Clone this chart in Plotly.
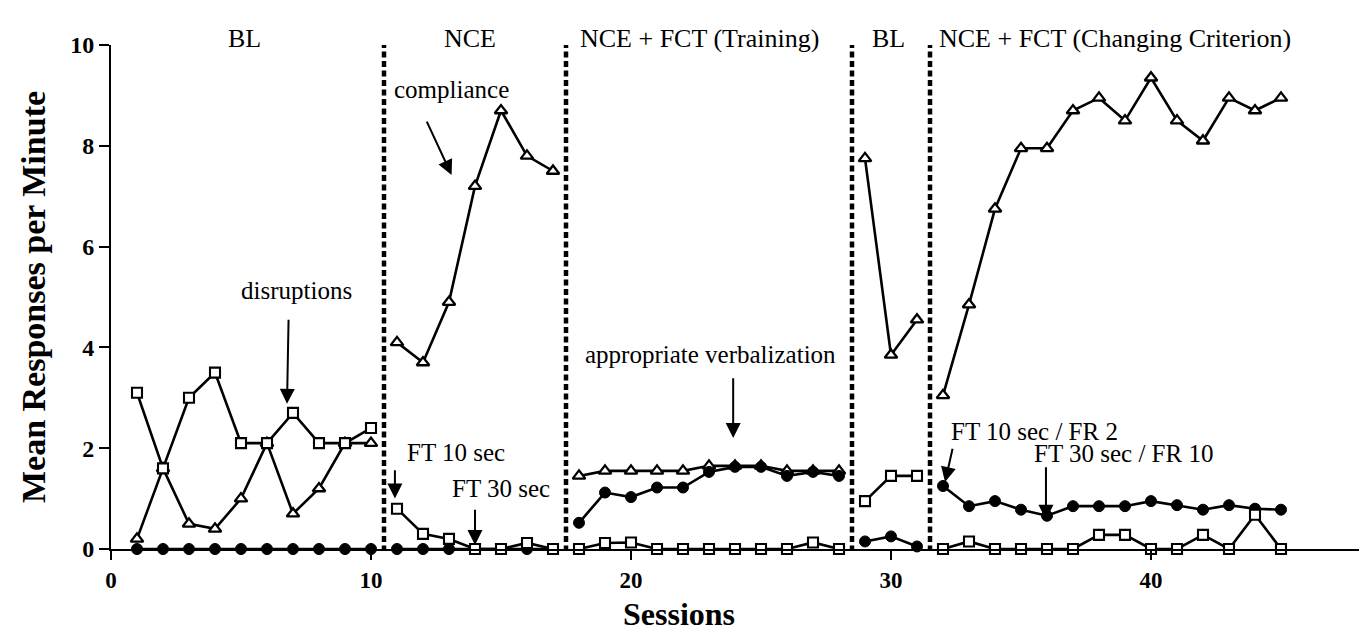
import plotly.graph_objects as go

# ---------------- data ----------------
sessions = list(range(1, 46))

# disruptions (open squares)
disruptions = [3.1, 1.6, 3.0, 3.5, 2.1, 2.1, 2.7, 2.1, 2.1, 2.4,      # BL 1-10
               0.8, 0.3, 0.2, 0.0, 0.0, 0.12, 0.0,                     # NCE 11-17
               0.0, 0.12, 0.13, 0.0, 0.0, 0.0, 0.0, 0.0, 0.0, 0.13, 0.0,  # NCE+FCT training 18-28
               0.95, 1.45, 1.45,                                       # BL 29-31
               0.0, 0.15, 0.0, 0.0, 0.0, 0.0, 0.28, 0.28, 0.0, 0.0, 0.28, 0.0, 0.68, 0.0]  # CC 32-45

# compliance (open triangles)
compliance = [0.2, 1.6, 0.5, 0.4, 1.0, 2.1, 0.7, 1.2, 2.1, 2.1,
              4.1, 3.7, 4.9, 7.2, 8.7, 7.8, 7.5,
              1.45, 1.55, 1.55, 1.55, 1.55, 1.65, 1.65, 1.65, 1.55, 1.55, 1.55,
              7.75, 3.85, 4.55,
              3.05, 4.85, 6.75, 7.95, 7.95, 8.7, 8.95, 8.5, 9.35, 8.5, 8.1, 8.95, 8.7, 8.95]

# appropriate verbalization (filled circles)
verbalization = [0.0, 0.0, 0.0, 0.0, 0.0, 0.0, 0.0, 0.0, 0.0, 0.0,
                 0.0, 0.0, 0.0, 0.0, 0.0, 0.0, 0.0,
                 0.52, 1.12, 1.03, 1.22, 1.22, 1.53, 1.63, 1.63, 1.45, 1.53, 1.45,
                 0.15, 0.25, 0.05,
                 1.25, 0.85, 0.95, 0.78, 0.66, 0.85, 0.85, 0.85, 0.95, 0.87, 0.78, 0.87, 0.8, 0.78]

phase_lines = [10.5, 17.5, 28.5, 31.5]
phase_labels = ["BL", "NCE", "NCE + FCT (Training)", "BL", "NCE + FCT (Changing Criterion)"]
phase_label_x = [5.15, 13.8, 22.65, 29.9, 38.6]

x_ticks = [0, 10, 20, 30, 40]
y_ticks = [0, 2, 4, 6, 8, 10]

SERIF = "Liberation Serif, Times New Roman, serif"


def split_phases(xs, ys, breaks):
    """Insert None between phases so lines are not connected across phase changes."""
    ox, oy = [], []
    for i, (a, b) in enumerate(zip(xs, ys)):
        if i > 0 and any(xs[i - 1] < br < a for br in breaks):
            ox.append(None)
            oy.append(None)
        ox.append(a)
        oy.append(b)
    return ox, oy


fig = go.Figure()

cx, cy = split_phases(sessions, compliance, phase_lines)
fig.add_trace(go.Scatter(
    x=cx, y=cy, mode="lines+markers", name="compliance", cliponaxis=False,
    line=dict(color="black", width=2.6),
    marker=dict(symbol="triangle-up", size=11, color="white",
                line=dict(color="black", width=2.3))))

vx, vy = split_phases(sessions, verbalization, phase_lines)
fig.add_trace(go.Scatter(
    x=vx, y=vy, mode="lines+markers", name="appropriate verbalization", cliponaxis=False,
    line=dict(color="black", width=2.6),
    marker=dict(symbol="circle", size=11, color="black",
                line=dict(color="black", width=1))))

dx, dy = split_phases(sessions, disruptions, phase_lines)
fig.add_trace(go.Scatter(
    x=dx, y=dy, mode="lines+markers", name="disruptions", cliponaxis=False,
    line=dict(color="black", width=2.6),
    marker=dict(symbol="square", size=10, color="white",
                line=dict(color="black", width=2.1))))

# phase change lines
for xl in phase_lines:
    fig.add_shape(type="line", x0=xl, x1=xl, xref="x", y0=-0.05, y1=10.12, yref="y",
                  line=dict(color="black", width=4.5, dash="6px,3.5px"), layer="below")

# phase labels
for lab, lx in zip(phase_labels, phase_label_x):
    fig.add_annotation(x=lx, y=1.046, xref="x", yref="paper", text=lab, showarrow=False,
                       font=dict(family=SERIF, size=26, color="black"))

# annotations with arrows: (text, text_x, text_y, tail_x, tail_y, head_x, head_y)
notes = [
    ("disruptions", 7.12, 5.12, 6.83, 4.58, 6.77, 2.88),
    ("compliance", 13.1, 9.11, 12.12, 8.51, 13.1, 7.42),
    ("FT 10 sec", 13.27, 1.92, 10.92, 1.59, 10.92, 1.0),
    ("FT 30 sec", 15.0, 1.21, 14.0, 0.81, 14.0, 0.08),
    ("appropriate verbalization", 23.04, 3.85, 23.93, 3.42, 23.93, 2.2),
    ("FT 10 sec / FR 2", 35.5, 2.34, 32.38, 2.02, 32.08, 1.33),
    ("FT 30 sec / FR 10", 38.96, 1.9, 35.96, 1.65, 35.96, 0.58),
]
for txt, tx, ty, ax_, ay_, hx, hy in notes:
    fig.add_annotation(x=tx, y=ty, xref="x", yref="y", text=txt, showarrow=False,
                       font=dict(family=SERIF, size=25, color="black"))
    fig.add_annotation(x=hx, y=hy, ax=ax_, ay=ay_, xref="x", yref="y", axref="x", ayref="y",
                       text="", showarrow=True, arrowhead=2, arrowsize=1.5, arrowwidth=2,
                       arrowcolor="black")

# x-axis title placed as in the reference (slightly left of centre)
fig.add_annotation(x=21.85, y=-0.09, xref="x", yref="paper", yanchor="top",
                   text="<b>Sessions</b>", showarrow=False,
                   font=dict(family=SERIF, size=32, color="black"))

fig.update_xaxes(range=[0, 48], tickvals=x_ticks, ticktext=[str(v) for v in x_ticks],
                 showline=True, linecolor="black", linewidth=2, ticks="outside", ticklen=9,
                 tickwidth=2, tickcolor="black", showgrid=False, zeroline=False,
                 tickfont=dict(family=SERIF, size=23, color="black", weight="bold"))
fig.update_yaxes(range=[0, 10], tickvals=y_ticks, ticktext=[str(v) for v in y_ticks],
                 showline=True, linecolor="black", linewidth=2, ticks="outside", ticklen=10,
                 tickwidth=2, tickcolor="black", showgrid=False, zeroline=False,
                 tickfont=dict(family=SERIF, size=24, color="black", weight="bold"),
                 title=dict(text="Mean Responses per Minute", standoff=14,
                            font=dict(family=SERIF, size=34, color="black", weight="bold")))

fig.update_layout(width=1364, height=638, margin=dict(l=111, r=5, t=45, b=89),
                  paper_bgcolor="white", plot_bgcolor="white", showlegend=False)

fig.write_html("out.html")
